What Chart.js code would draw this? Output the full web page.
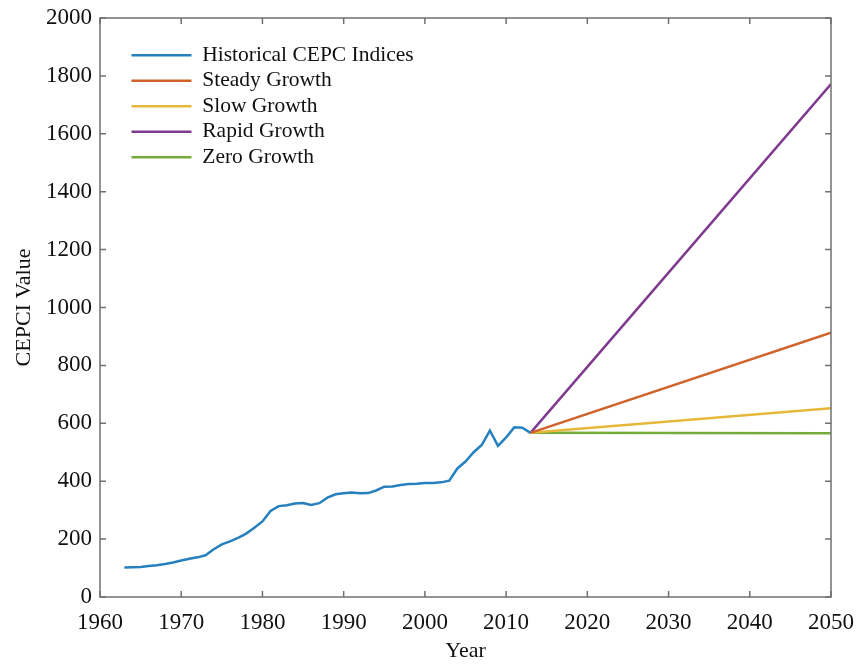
<!DOCTYPE html>
<html>
<head>
<meta charset="utf-8">
<script src="https://cdn.jsdelivr.net/npm/chart.js@4.4.1/dist/chart.umd.min.js"></script>
<style>
  html, body { margin: 0; padding: 0; background: #fff; }
</style>
</head>
<body>
<canvas id="chart" width="858" height="664"></canvas>
<script>
// historical CEPCI
const years = [1963, 1964, 1965, 1966, 1967, 1968, 1969, 1970, 1971, 1972, 1973, 1974, 1975,
  1976, 1977, 1978, 1979, 1980, 1981, 1982, 1983, 1984, 1985, 1986, 1987, 1988, 1989, 1990,
  1991, 1992, 1993, 1994, 1995, 1996, 1997, 1998, 1999, 2000, 2001, 2002, 2003, 2004, 2005,
  2006, 2007, 2008, 2009, 2010, 2011, 2012, 2013];
const cepci = [102, 103, 104, 107, 110, 114, 119, 126, 132, 137, 144, 165, 182,
  192, 204, 219, 239, 261, 297, 314, 317, 323, 325, 318, 324, 343, 355, 358,
  361, 358, 359, 368, 381, 382, 387, 390, 391, 394, 394, 396, 402, 444, 468,
  500, 525, 575, 522, 551, 586, 585, 567];

// projections, start and end of each line
const projYears = [2013, 2050];
const steady = [567, 913];
const slow = [567, 652];
const rapid = [567, 1772];
const zero = [567, 566];

const xTicks = [1960, 1970, 1980, 1990, 2000, 2010, 2020, 2030, 2040, 2050];
const yTicks = [0, 200, 400, 600, 800, 1000, 1200, 1400, 1600, 1800, 2000];

const names = ['Historical CEPC Indices', 'Steady Growth', 'Slow Growth', 'Rapid Growth', 'Zero Growth'];
const colors = ['#2580bd', '#d2622a', '#e6b83a', '#7e3b8e', '#74ab3a'];

const pts = (xs, ys) => xs.map((x, i) => ({ x: x, y: ys[i] }));
const series = [pts(years, cepci), pts(projYears, steady), pts(projYears, slow), pts(projYears, rapid), pts(projYears, zero)];

Chart.defaults.font.family = '"Liberation Serif", "Times New Roman", serif';
Chart.defaults.color = '#111';

// drop the automatic label overflow padding so the plot box sits where the layout padding says
const noPad = s => { s.paddingLeft = s.paddingRight = s.paddingTop = s.paddingBottom = 0; };

// matlab style box with inward ticks, and legend placed inside the axes
const boxFrame = {
  id: 'boxFrame',
  afterLayout(chart) {
    const a = chart.chartArea, lg = chart.legend;
    lg.left = a.left + 27.5;
    lg.top = a.top + 22.5;
    lg.right = lg.left + lg.width;
    lg.bottom = lg.top + a.height;
  },
  afterDraw(chart) {
    const { ctx, chartArea: a, scales: { x, y } } = chart;
    ctx.save();
    ctx.strokeStyle = '#707070';
    ctx.lineWidth = 1.5;
    ctx.strokeRect(a.left, a.top, a.width, a.height);
    ctx.beginPath();
    x.ticks.forEach(t => {
      const px = x.getPixelForValue(t.value);
      ctx.moveTo(px, a.bottom); ctx.lineTo(px, a.bottom - 6);
      ctx.moveTo(px, a.top); ctx.lineTo(px, a.top + 6);
    });
    y.ticks.forEach(t => {
      const py = y.getPixelForValue(t.value);
      ctx.moveTo(a.left, py); ctx.lineTo(a.left + 6, py);
      ctx.moveTo(a.right, py); ctx.lineTo(a.right - 6, py);
    });
    ctx.stroke();
    ctx.restore();
  }
};

new Chart(document.getElementById('chart'), {
  type: 'line',
  data: {
    datasets: series.map((d, i) => ({
      label: names[i], data: d, borderColor: colors[i], backgroundColor: colors[i],
      borderWidth: 2.5, pointRadius: 0, tension: 0, fill: false
    }))
  },
  options: {
    responsive: false,
    animation: false,
    layout: { padding: { top: 18, right: 27, bottom: 0, left: 0 } },
    scales: {
      x: {
        type: 'linear', min: 1960, max: 2050,
        afterBuildTicks: s => { s.ticks = xTicks.map(v => ({ value: v })); },
        afterFit: s => { s.height = 67; noPad(s); },
        grid: { display: false, drawTicks: false }, border: { display: false },
        ticks: { font: { size: 23 }, padding: 12, maxRotation: 0, callback: v => String(v) },
        title: { display: true, text: 'Year', font: { size: 22 }, padding: { top: 0, bottom: 0 } }
      },
      y: {
        type: 'linear', min: 0, max: 2000,
        afterBuildTicks: s => { s.ticks = yTicks.map(v => ({ value: v })); },
        afterFit: s => { s.width = 100; noPad(s); },
        grid: { display: false, drawTicks: false }, border: { display: false },
        ticks: { font: { size: 23 }, padding: 8, callback: v => String(v) },
        title: { display: true, text: 'CEPCI Value', font: { size: 22 }, padding: { top: 11, bottom: 0 } }
      }
    },
    plugins: {
      tooltip: { enabled: false },
      legend: {
        position: 'chartArea', align: 'start',
        labels: {
          usePointStyle: true, pointStyle: 'line', pointStyleWidth: 60,
          padding: 4, font: { size: 21.5 }, color: '#111'
        }
      }
    }
  },
  plugins: [boxFrame]
});
</script>
</body>
</html>
